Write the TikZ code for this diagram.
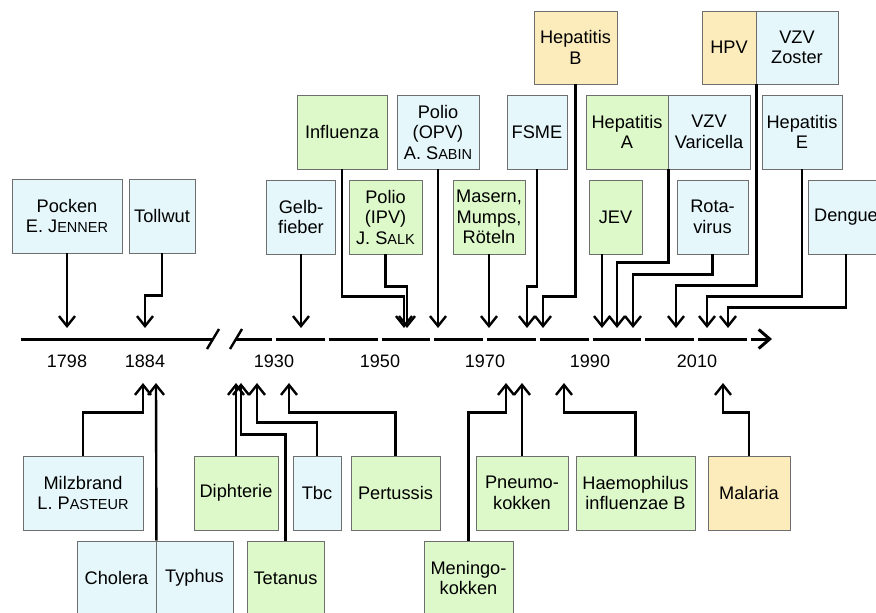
\documentclass[tikz,border=0pt]{standalone}
\usepackage{fontspec}
\setmainfont{Liberation Sans}
\usetikzlibrary{arrows.meta}
\definecolor{cblue}{HTML}{E5F7FB}
\definecolor{cgreen}{HTML}{DDF8C9}
\definecolor{cyell}{HTML}{FCECBC}
\definecolor{cbord}{HTML}{6E6E6E}
\newcommand\fsc[1]{{\fontsize{14.5}{14.5}\selectfont #1}}
\begin{document}
\begin{tikzpicture}[x=1pt,y=-1pt,
  box/.style={draw=cbord, line width=0.9pt, align=center, inner sep=0pt,
    font=\fontsize{18.2}{20.5}\selectfont, minimum height=74pt},
  bl/.style={box, fill=cblue},
  gr/.style={box, fill=cgreen},
  ye/.style={box, fill=cyell},
  arr/.style={line width=2.4pt, -{Straight Barb[length=10pt,width=16pt]}},
  yr/.style={font=\fontsize{18}{20}\selectfont, inner sep=0pt},
  axisline/.style={line width=3pt}]
\useasboundingbox (0,0) rectangle (876,613);

% ---------- top boxes ----------
\node[bl, minimum width=110pt] (pocken) at (67,216) {Pocken\\E. J\fsc{ENNER}};
\node[bl, minimum width=66pt] (tollwut) at (162,216) {Tollwut};
\node[bl, minimum width=69pt] (gelb) at (301,217) {Gelb-\\fieber};
\node[gr, minimum width=90pt] (infl) at (342,132) {Influenza};
\node[gr, minimum width=73pt] (ipv) at (385.5,217) {Polio\\(IPV)\\J. S\fsc{ALK}};
\node[bl, minimum width=82pt] (opv) at (438,132) {Polio\\(OPV)\\A. S\fsc{ABIN}};
\node[gr, minimum width=72pt] (mas) at (489,217) {Masern,\\Mumps,\\Röteln};
\node[bl, minimum width=60pt] (fsme) at (537,132) {FSME};
\node[ye, minimum width=83pt, minimum height=73pt] (hepB) at (575.5,47.5) {Hepatitis\\B};
\node[gr, minimum width=82pt] (hepA) at (627,132) {Hepatitis\\A};
\node[bl, minimum width=82pt] (vzvV) at (709,132) {VZV\\Varicella};
\node[gr, minimum width=53pt] (jev) at (615.5,217) {JEV};
\node[bl, minimum width=71pt] (rota) at (712.5,217) {Rota-\\virus};
\node[ye, minimum width=54pt, minimum height=73pt] (hpv) at (729,47.5) {HPV};
\node[bl, minimum width=82pt, minimum height=73pt] (vzvZ) at (797,47.5) {VZV\\Zoster};
\node[bl, minimum width=80pt] (hepE) at (802,132) {Hepatitis\\E};
\node[bl, minimum width=76pt] (dengue) at (846,217) {Dengue};

% ---------- bottom boxes ----------
\node[bl, minimum width=120pt] (milz) at (83,493) {Milzbrand\\L. P\fsc{ASTEUR}};
\node[bl, minimum width=79pt] (chol) at (116.5,578) {Cholera};
\node[bl, minimum width=77pt] (typh) at (194.5,578) {Typhus};
\node[gr, minimum width=84pt] (diph) at (236,493) {Diphterie};
\node[gr, minimum width=77pt] (tet) at (285.5,578) {Tetanus};
\node[bl, minimum width=48pt] (tbc) at (317,493) {Tbc};
\node[gr, minimum width=89pt] (pert) at (395.5,493) {Pertussis};
\node[gr, minimum width=89pt] (men) at (468.5,578) {Meningo-\\kokken};
\node[gr, minimum width=92pt] (pneu) at (522,493) {Pneumo-\\kokken};
\node[gr, minimum width=119pt] (haem) at (635.5,493) {Haemophilus\\influenzae B};
\node[ye, minimum width=82pt] (mal) at (749,493) {Malaria};

% ---------- axis ----------
\draw[axisline] (21,339) -- (213,339);
\draw[line width=2.4pt] (207,349) -- (219,329);
\draw[line width=2.4pt] (230,349) -- (242,329);
\draw[axisline] (236,339) -- (272,339);
\foreach \i in {0,...,8} {
  \draw[axisline] ({276+52.78*\i},339) -- ({272+52.78*(\i+1)},339);
}
\draw[axisline, -{Straight Barb[length=11pt,width=19pt]}] (751,339) -- (772,339);

% ---------- year labels ----------
\node[yr] (y1798) at (67,361) {1798};
\node[yr] (y1884) at (145,361) {1884};
\node[yr] (y1930) at (274,361) {1930};
\node[yr] (y1950) at (380,361) {1950};
\node[yr] (y1970) at (485,361) {1970};
\node[yr] (y1990) at (590,361) {1990};
\node[yr] (y2010) at (697,361) {2010};

% ---------- arrow tips ----------
\coordinate (tPocken) at (67,328);
\coordinate (tToll) at (145,328);
\coordinate (tGelb) at (301,328);
\coordinate (tInfl) at (404,328);
\coordinate (tIPV) at (407,328);
\coordinate (tOPV) at (438,328);
\coordinate (tMas) at (489,328);
\coordinate (tFSME) at (527,328);
\coordinate (tHepB) at (543,328);
\coordinate (tJEV) at (602,328);
\coordinate (tHepA) at (617,328);
\coordinate (tRota) at (633,328);
\coordinate (tHPV) at (676,328);
\coordinate (tHepE) at (707,328);
\coordinate (tDeng) at (728,328);

\coordinate (bMilz) at (143,383);
\coordinate (bChol) at (156,383);
\coordinate (bDiph) at (236,383);
\coordinate (bTet) at (241,383);
\coordinate (bTbc) at (257,383);
\coordinate (bPert) at (289,383);
\coordinate (bMen) at (506,383);
\coordinate (bPneu) at (522,383);
\coordinate (bHaem) at (564,383);
\coordinate (bMal) at (723,383);

% ---------- top connectors ----------
\draw[arr] (pocken.south) -- (tPocken);
\draw[arr] (tollwut.south) -- ++(0,42) -| (tToll);
\draw[arr] (gelb.south) -- (tGelb);
\draw[arr] (infl.south) -- ++(0,127) -| (tInfl);
\draw[arr] (ipv.south) -- ++(0,32) -| (tIPV);
\draw[arr] (opv.south) -- (tOPV);
\draw[arr] (mas.south) -- (tMas);
\draw[arr] (fsme.south) -- ++(0,117) -| (tFSME);
\draw[arr] (hepB.south) -- ++(0,212) -| (tHepB);
\draw[arr] (hepA.south east) -- ++(0,93) -| (tHepA);
\draw[arr] (tJEV |- jev.south) -- (tJEV);
\draw[arr] (rota.south) -- ++(0,20) -| (tRota);
\draw[arr] (hpv.south east) -- ++(0,201) -| (tHPV);
\draw[arr] (hepE.south) -- ++(0,127) -| (tHepE);
\draw[arr] (dengue.south) -- ++(0,53) -| (tDeng);

% ---------- bottom connectors ----------
\draw[arr] (milz.north) -- ++(0,-43) -| (bMilz);
\draw[arr] (chol.north east) -- (bChol);
\draw[arr] (diph.north) -- (bDiph);
\draw[arr] (tet.north) -- ++(0,-106) -| (bTet);
\draw[arr] (tbc.north) -- ++(0,-33) -| (bTbc);
\draw[arr] (pert.north) -- ++(0,-43) -| (bPert);
\draw[arr] (men.north) -- ++(0,-128) -| (bMen);
\draw[arr] (pneu.north) -- (bPneu);
\draw[arr] (haem.north) -- ++(0,-43) -| (bHaem);
\draw[arr] (mal.north) -- ++(0,-43) -| (bMal);
\end{tikzpicture}
\end{document}
